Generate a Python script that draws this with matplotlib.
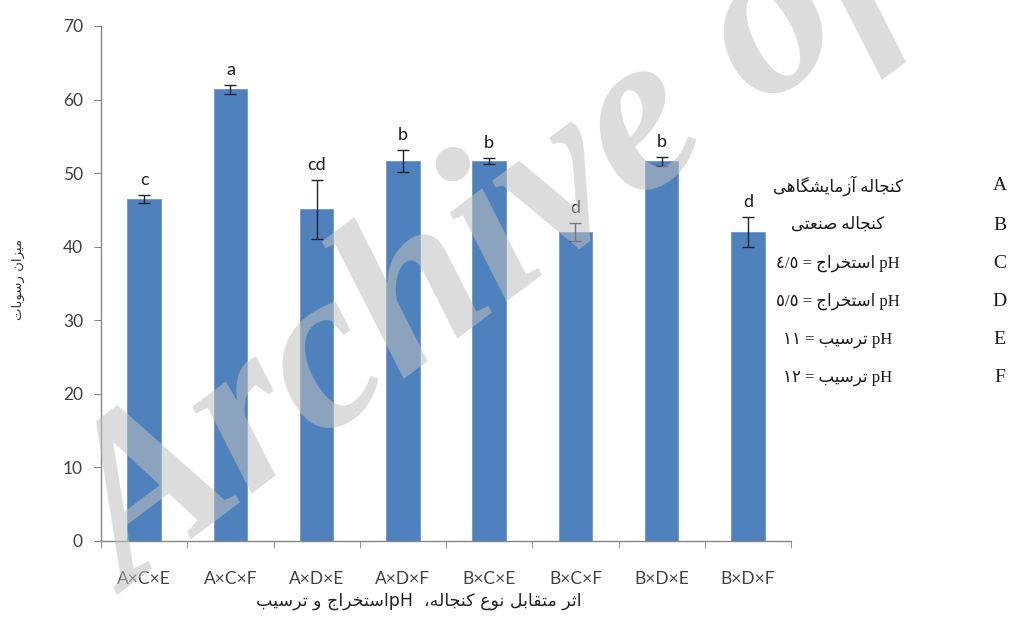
import re
import matplotlib
matplotlib.use("Agg")
import matplotlib.pyplot as plt
import numpy as np

# sediment amount for each meal x extraction pH x precipitation pH combination
groups = ["A×C×E", "A×C×F", "A×D×E", "A×D×F", "B×C×E", "B×C×F", "B×D×E", "B×D×F"]
means = [46.5, 61.4, 45.1, 51.6, 51.6, 42.0, 51.6, 42.0]
errors = [0.5, 0.6, 4.0, 1.5, 0.4, 1.2, 0.6, 2.0]
letters = ["c", "a", "cd", "b", "b", "d", "b", "d"]

y_label = "میزان رسوبات"
x_label = "اثر متقابل نوع کنجاله،  pHاستخراج و ترسیب"
key_codes = ["A", "B", "C", "D", "E", "F"]
key_texts = ["کنجاله آزمایشگاهی", "کنجاله صنعتی", "pH استخراج = ٤/٥",
             "pH استخراج = ٥/٥", "pH ترسیب = ١١", "pH ترسیب = ١٢"]

# presentation forms: isolated, final, initial, medial
FORMS = {
    "\u0627": (0xFE8D, 0xFE8E), "\u0622": (0xFE81, 0xFE82),
    "\u0628": (0xFE8F, 0xFE90, 0xFE91, 0xFE92), "\u062A": (0xFE95, 0xFE96, 0xFE97, 0xFE98),
    "\u062B": (0xFE99, 0xFE9A, 0xFE9B, 0xFE9C), "\u062C": (0xFE9D, 0xFE9E, 0xFE9F, 0xFEA0),
    "\u062E": (0xFEA5, 0xFEA6, 0xFEA7, 0xFEA8), "\u062F": (0xFEA9, 0xFEAA),
    "\u0631": (0xFEAD, 0xFEAE), "\u0632": (0xFEAF, 0xFEB0),
    "\u0633": (0xFEB1, 0xFEB2, 0xFEB3, 0xFEB4), "\u0634": (0xFEB5, 0xFEB6, 0xFEB7, 0xFEB8),
    "\u0635": (0xFEB9, 0xFEBA, 0xFEBB, 0xFEBC), "\u0639": (0xFEC9, 0xFECA, 0xFECB, 0xFECC),
    "\u0642": (0xFED5, 0xFED6, 0xFED7, 0xFED8), "\u0644": (0xFEDD, 0xFEDE, 0xFEDF, 0xFEE0),
    "\u0645": (0xFEE1, 0xFEE2, 0xFEE3, 0xFEE4), "\u0646": (0xFEE5, 0xFEE6, 0xFEE7, 0xFEE8),
    "\u0647": (0xFEE9, 0xFEEA, 0xFEEB, 0xFEEC), "\u0648": (0xFEED, 0xFEEE),
    "\u06A9": (0xFB8E, 0xFB8F, 0xFB90, 0xFB91), "\u06AF": (0xFB92, 0xFB93, 0xFB94, 0xFB95),
    "\u06CC": (0xFBFC, 0xFBFD, 0xFBFE, 0xFBFF),
}


def shape(s):
    s = s.replace("\u064A", "\u06CC").replace("\u0643", "\u06A9")
    out = []
    for i, ch in enumerate(s):
        if ch not in FORMS:
            out.append(ch)
            continue
        f = FORMS[ch]
        prev = s[i - 1] if i > 0 else ""
        nxt = s[i + 1] if i + 1 < len(s) else ""
        jp = prev in FORMS and len(FORMS[prev]) == 4
        jn = nxt in FORMS and len(f) == 4
        if jp and jn:
            out.append(chr(f[3]))
        elif jp:
            out.append(chr(f[1]))
        elif jn:
            out.append(chr(f[2]))
        else:
            out.append(chr(f[0]))
    return "".join(out)


def rtl(text):
    # simple right-to-left layout: latin/number runs stay, arabic runs get reversed
    runs = re.findall(r"[A-Za-z0-9\u0660-\u0669/]+|[^A-Za-z0-9\u0660-\u0669/]+", text)
    out = []
    for r in reversed(runs):
        if re.match(r"[A-Za-z0-9\u0660-\u0669]", r):
            out.append(r)
        else:
            out.append(shape(r)[::-1])
    return "".join(out)


plt.rcParams["font.family"] = ["Lato", "DejaVu Sans"]

fig = plt.figure(figsize=(10.34, 6.29), dpi=100)
ax = fig.add_axes([0.0977, 0.140, 0.6673, 0.8187])

x = np.arange(len(groups))
ax.bar(x, means, width=0.39, color="#4f81bd", edgecolor="#6f97cc", linewidth=0.6, zorder=2)
ax.errorbar(x, means, yerr=errors, fmt="none", ecolor="#1c2333", elinewidth=1.0,
            capsize=4, capthick=1.0, zorder=3)

for xi, m, e, lab in zip(x, means, errors, letters):
    ax.annotate(lab, (xi, m + e), xytext=(0, 5), textcoords="offset points",
                ha="center", va="bottom", fontsize=13, color="#1a1a1a")

ax.set_xlim(-0.5, len(groups) - 0.5)
ax.set_ylim(0, 70)
ax.set_yticks(range(0, 71, 10))
ax.set_xticks(x)
ax.set_xticklabels(groups)
ax.set_xticks(np.arange(-0.5, len(groups), 1.0), minor=True)
ax.tick_params(axis="x", which="major", length=0, pad=22, labelsize=12.5, labelcolor="#404040")
ax.tick_params(axis="x", which="minor", length=5, color="#868686", direction="out")
ax.tick_params(axis="y", length=5, color="#868686", direction="out", pad=8,
               labelsize=12.5, labelcolor="#404040")
for side in ["top", "right"]:
    ax.spines[side].set_visible(False)
for side in ["left", "bottom"]:
    ax.spines[side].set_color("#868686")
    ax.spines[side].set_linewidth(1.0)

fig.text(0.018, 0.555, rtl(y_label), rotation=90, ha="center", va="center",
         fontsize=9.5, family=["DejaVu Sans"], color="#333333")
fig.text(0.405, 0.045, rtl(x_label), ha="center", va="center",
         fontsize=12.5, family=["DejaVu Sans"], color="#222222")

# key of factor codes on the right
rows_y = [186, 225, 263, 301, 340, 378]
for code, txt, py in zip(key_codes, key_texts, rows_y):
    yy = 1 - py / 629
    fig.text(0.967, yy, code, ha="center", va="center", fontsize=14,
             family=["Liberation Serif"], color="#1a1a1a")
    fig.text(0.810, yy, rtl(txt), ha="center", va="center", fontsize=12,
             family=["Liberation Serif", "DejaVu Sans"], color="#1a1a1a")

fig.text(0.125, 0.055, "Archive of SID", rotation=37, rotation_mode="anchor",
         ha="left", va="baseline", fontsize=165, fontweight="bold", fontstyle="italic",
         family=["Liberation Serif"], color="#c0c0c0", alpha=0.55, zorder=10)

fig.savefig("out.png", dpi=100)
